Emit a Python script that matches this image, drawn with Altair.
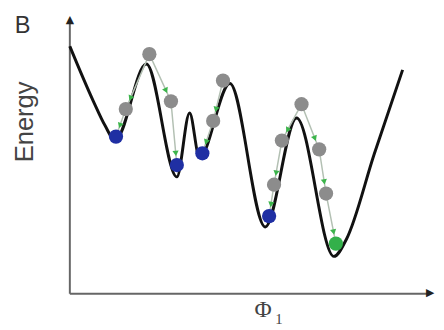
import math
import altair as alt
import pandas as pd

# Energy landscape profile: key points (arbitrary units)
curve_x = [0, 24, 36, 46, 78, 109, 122, 132, 163, 199, 231, 269, 282, 310, 339]
curve_y = [252, 196, 171, 156, 234, 119, 184, 139, 214, 68, 179, 38, 56, 142, 228]

# States: minima reached (blue), global minimum (green), intermediate (gray)
blue_x = [47, 109, 135, 203]
blue_y = [160, 131, 143, 79]
green_x = [271]
green_y = [51]
gray_x = [81, 57, 103, 156, 146, 236, 216, 208, 254, 261]
gray_y = [244, 188, 196, 217, 176, 193, 156, 111, 147, 102]

# Relaxation paths (sequences of states)
path_ids = [1, 1, 1, 2, 2, 2, 3, 3, 3, 4, 4, 4, 4, 5, 5, 5, 5]
path_x = [81, 57, 47, 81, 103, 109, 156, 146, 135, 236, 216, 208, 203, 236, 254, 261, 271]
path_y = [244, 188, 160, 244, 196, 131, 217, 176, 143, 193, 156, 111, 79, 193, 147, 102, 51]

# axis arrow heads
tip_x = [0, 367]
tip_y = [279, 1]
tip_sym = ["▲", "▶"]

X_MAX = 369
Y_MAX = 282

curve_df = pd.DataFrame({"x": curve_x, "y": curve_y, "o": range(len(curve_x))})
path_df = pd.DataFrame({"pid": path_ids, "x": path_x, "y": path_y,
                        "o": range(len(path_x))})

# arrowheads near the end of each path segment
arr = []
for i in range(len(path_x) - 1):
    if path_ids[i] != path_ids[i + 1]:
        continue
    x0, y0, x1, y1 = path_x[i], path_y[i], path_x[i + 1], path_y[i + 1]
    dx, dy = x1 - x0, y1 - y0
    L = math.hypot(dx, dy)
    t = 1 - 12 / L
    ang = math.degrees(math.atan2(dx, dy)) % 360
    arr.append({"x": x0 + dx * t, "y": y0 + dy * t, "a": ang})
arr_df = pd.DataFrame(arr)

dots_df = pd.DataFrame(
    {"x": gray_x + blue_x + green_x,
     "y": gray_y + blue_y + green_y,
     "kind": ["gray"] * len(gray_x) + ["blue"] * len(blue_x) + ["green"] * len(green_x)}
)

xs = alt.Scale(domain=[0, X_MAX], nice=False, zero=False)
ys = alt.Scale(domain=[0, Y_MAX], nice=False, zero=False)
X = lambda f="x": alt.X(f"{f}:Q", scale=xs, axis=None)
Y = lambda f="y": alt.Y(f"{f}:Q", scale=ys, axis=None)

axis_col = "#666666"
y_axis = alt.Chart(pd.DataFrame({"x": [0], "y": [0], "y2": [Y_MAX - 6]})).mark_rule(
    color=axis_col, strokeWidth=2).encode(x=X(), y=Y(), y2="y2:Q")
x_axis = alt.Chart(pd.DataFrame({"x": [0], "x2": [X_MAX - 5], "y": [0]})).mark_rule(
    color=axis_col, strokeWidth=2).encode(x=X(), x2="x2:Q", y=Y())
heads = alt.Chart(pd.DataFrame({"x": tip_x, "y": tip_y, "t": tip_sym})).mark_text(
    fontSize=11, font="DejaVu Sans", color="#222222", align="center",
    baseline="middle", clip=False).encode(x=X(), y=Y(), text="t:N")

curve = alt.Chart(curve_df).mark_line(
    color="#111111", strokeWidth=3, interpolate="monotone").encode(
    x=X(), y=Y(), order="o:Q")

paths = alt.Chart(path_df).mark_line(color="#b3c0b3", strokeWidth=1.5).encode(
    x=X(), y=Y(), detail="pid:N", order="o:Q")

arrows = alt.Chart(arr_df).mark_point(
    shape="triangle-up", filled=True, color="#3cb44b", size=40, opacity=1).encode(
    x=X(), y=Y(), angle=alt.Angle("a:Q", scale=None))

dots = alt.Chart(dots_df).mark_circle(size=210, opacity=1).encode(
    x=X(), y=Y(),
    color=alt.Color("kind:N", scale=alt.Scale(domain=["gray", "blue", "green"],
                                              range=["#8c8c8c", "#1f2fa3", "#33b04a"]),
                    legend=None))

lab_b = alt.Chart(pd.DataFrame({"t": ["B"]})).mark_text(
    fontSize=24, font="Liberation Sans", fill="#333333", align="center",
    baseline="alphabetic").encode(text="t:N", x=alt.value(-48), y=alt.value(16))
lab_e = alt.Chart(pd.DataFrame({"t": ["Energy"]})).mark_text(
    fontSize=26, font="Liberation Sans", fill="#444444", angle=270, align="center",
    baseline="alphabetic").encode(text="t:N", x=alt.value(-38), y=alt.value(107))
lab_p = alt.Chart(pd.DataFrame({"t": ["Φ"]})).mark_text(
    fontSize=24, font="Liberation Serif", fill="#444444", align="center",
    baseline="alphabetic").encode(text="t:N", x=alt.value(197), y=alt.value(306))
lab_1 = alt.Chart(pd.DataFrame({"t": ["1"]})).mark_text(
    fontSize=15, font="Liberation Serif", fill="#444444", align="center",
    baseline="alphabetic").encode(text="t:N", x=alt.value(213), y=alt.value(313))

chart = alt.layer(y_axis, x_axis, curve, paths, arrows, dots,
                  lab_b, lab_e, lab_p, lab_1, heads).properties(
    width=X_MAX, height=Y_MAX,
    padding={"left": 63, "top": 6, "right": 4, "bottom": 34},
    autosize=alt.AutoSizeParams(type="none"),
).configure_view(stroke=None)

chart.save("out.html", embed_options={"renderer": "svg", "actions": False})
